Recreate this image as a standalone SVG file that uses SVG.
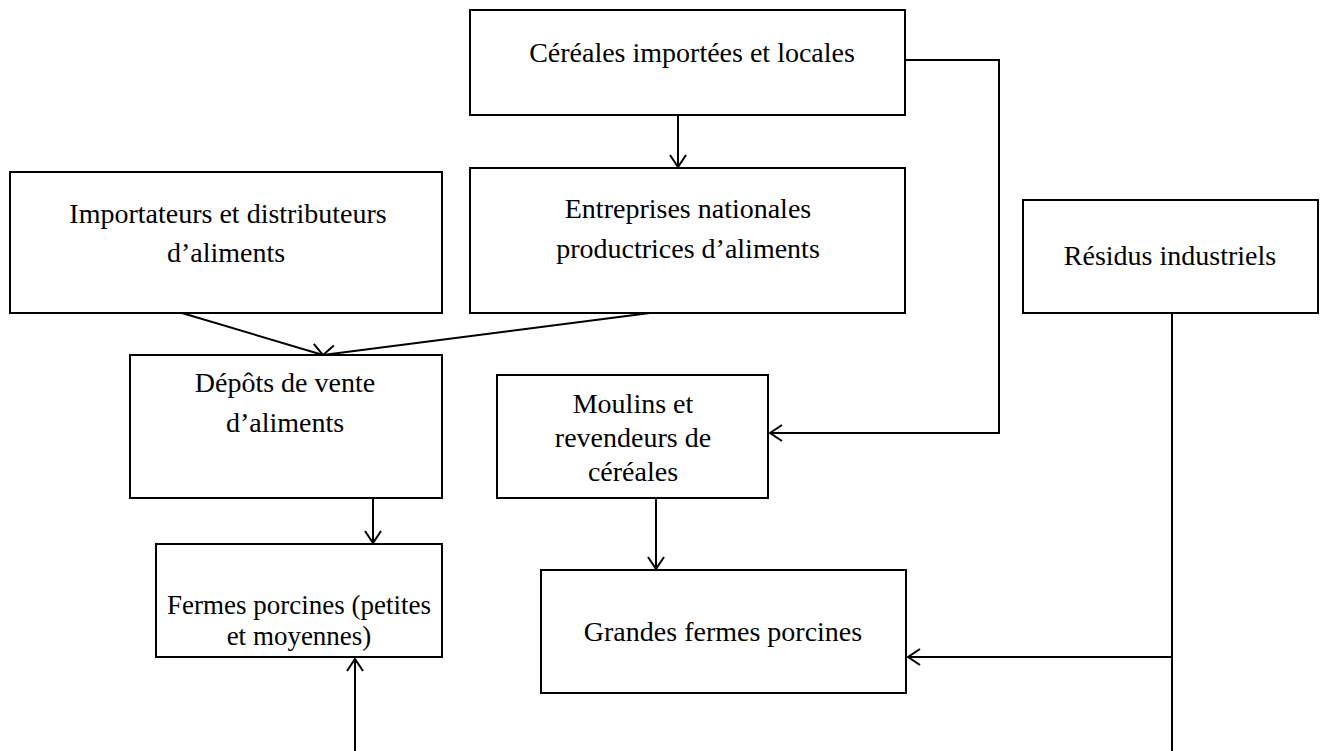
<svg xmlns="http://www.w3.org/2000/svg" width="1330" height="751" viewBox="0 0 1330 751">
<style>
.box{fill:#fff;stroke:#000;stroke-width:2}
.t{font-family:"Liberation Serif","Times New Roman",serif;font-size:28px;fill:#000;text-anchor:middle}
.c{fill:none;stroke:#000;stroke-width:2}
</style>
<defs>
<marker id="a" markerUnits="userSpaceOnUse" markerWidth="14" markerHeight="20" viewBox="0 0 14 20" refX="13" refY="10" orient="auto">
<path d="M1,2 L13,10 L1,18" fill="none" stroke="#000" stroke-width="2"/>
</marker>
</defs>
<rect width="1330" height="751" fill="#fff"/>
<g id="connectors">
<line class="c" x1="678" y1="115" x2="678" y2="167" marker-end="url(#a)"/>
<polyline class="c" points="905,60 999,60 999,433 770,433" marker-end="url(#a)"/>
<line class="c" x1="182" y1="313" x2="323" y2="355" marker-end="url(#a)"/>
<line class="c" x1="650" y1="313" x2="323" y2="355" marker-end="url(#a)"/>
<line class="c" x1="373" y1="498" x2="373" y2="543" marker-end="url(#a)"/>
<line class="c" x1="656" y1="498" x2="656" y2="569" marker-end="url(#a)"/>
<line class="c" x1="1172" y1="313" x2="1172" y2="751"/>
<line class="c" x1="1172" y1="657" x2="908" y2="657" marker-end="url(#a)"/>
<line class="c" x1="355" y1="751" x2="355" y2="659" marker-end="url(#a)"/>
</g>
<g id="n1"><rect class="box" x="470" y="10" width="435" height="105"/><text class="t" x="692" y="62">Céréales importées et locales</text></g>
<g id="n2"><rect class="box" x="10" y="172" width="432" height="141"/><text class="t" x="228" y="223">Importateurs et distributeurs</text><text class="t" x="226" y="262">d’aliments</text></g>
<g id="n3"><rect class="box" x="470" y="168" width="435" height="145"/><text class="t" x="688" y="218">Entreprises nationales</text><text class="t" x="688" y="258">productrices d’aliments</text></g>
<g id="n4"><rect class="box" x="1023" y="200" width="295" height="113"/><text class="t" x="1170" y="265">Résidus industriels</text></g>
<g id="n5"><rect class="box" x="130" y="355" width="312" height="143"/><text class="t" x="285" y="392">Dépôts de vente</text><text class="t" x="285" y="432">d’aliments</text></g>
<g id="n6"><rect class="box" x="497" y="375" width="271" height="123"/><text class="t" x="633" y="413">Moulins et</text><text class="t" x="633" y="447">revendeurs de</text><text class="t" x="633" y="481">céréales</text></g>
<g id="n7"><rect class="box" x="156" y="544" width="286" height="113"/><text class="t" x="299" y="614" style="font-size:27px">Fermes porcines (petites</text><text class="t" x="299" y="645" style="font-size:27px">et moyennes)</text></g>
<g id="n8"><rect class="box" x="541" y="570" width="365" height="123"/><text class="t" x="723" y="641" style="font-size:28px">Grandes fermes porcines</text></g>
</svg>
